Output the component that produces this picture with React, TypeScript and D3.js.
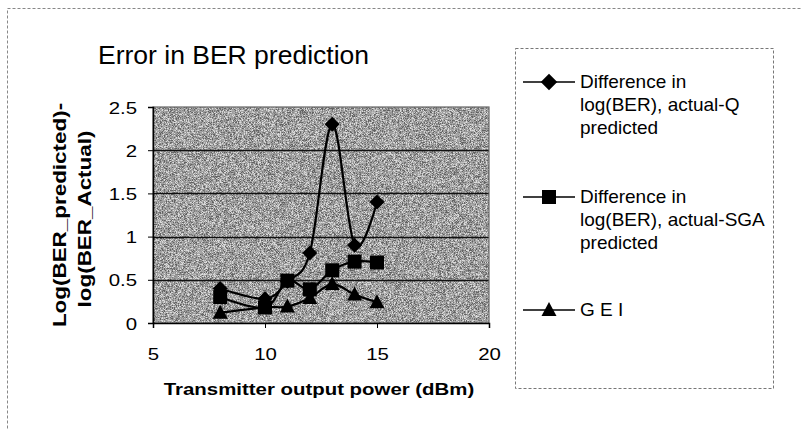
import * as d3 from 'd3'
import React, { useEffect, useRef } from 'react'

const xValues = [8, 10, 11, 12, 13, 14, 15]
const actualQ = [0.4, 0.28, 0.48, 0.81, 2.3, 0.9, 1.4]
const actualSGA = [0.3, 0.18, 0.49, 0.39, 0.61, 0.71, 0.7]
const gei = [0.12, 0.18, 0.19, 0.29, 0.45, 0.33, 0.24]

const xTicks = [5, 10, 15, 20]
const yTicks = [0, 0.5, 1, 1.5, 2, 2.5]

const seriesNames = [
  ['Difference in', 'log(BER), actual-Q', 'predicted'],
  ['Difference in', 'log(BER), actual-SGA', 'predicted'],
  ['G E I'],
]
const seriesShapes = ['diamond', 'square', 'triangle']

const plot = { left: 153, right: 489, top: 107, bottom: 323 }
const font = '"Liberation Sans", Arial, sans-serif'

// marker outline centred on 0,0
const marker = (shape: string, s = 1) => {
  if (shape === 'diamond') return `M0,${-7.5 * s}L${7.5 * s},0L0,${7.5 * s}L${-7.5 * s},0Z`
  if (shape === 'square') return `M${-7 * s},${-7 * s}h${14 * s}v${14 * s}h${-14 * s}Z`
  return `M0,${-8 * s}L${7.5 * s},${6 * s}L${-7.5 * s},${6 * s}Z`
}

// scanned text is a bit wider than the font itself
const stretch = (sel: d3.Selection<any, any, any, any>, k: number) => {
  sel.each(function () {
    const el = this as SVGTextContentElement
    const w = el.getComputedTextLength()
    el.setAttribute('textLength', String(w * k))
    el.setAttribute('lengthAdjust', 'spacingAndGlyphs')
  })
}

const App = () => {
  const ref = useRef<SVGSVGElement>(null)

  useEffect(() => {
    if (!ref.current) return
    const svg = d3.select(ref.current)
    svg.selectAll('*').remove()

    const x = d3.scaleLinear().domain([5, 20]).range([plot.left, plot.right])
    const y = d3.scaleLinear().domain([0, 2.5]).range([plot.bottom, plot.top])

    // outer chart frame (dashed, runs off the page on the right/bottom)
    svg
      .append('rect')
      .attr('x', 7.5)
      .attr('y', 8.5)
      .attr('width', 900)
      .attr('height', 600)
      .attr('fill', 'white')
      .attr('stroke', '#888')
      .attr('stroke-dasharray', '3,2')

    svg
      .append('text')
      .attr('x', 98)
      .attr('y', 64)
      .attr('font-family', font)
      .attr('font-size', 26.5)
      .text('Error in BER prediction')

    // plot background with speckle
    const defs = svg.append('defs')
    const filter = defs.append('filter').attr('id', 'noise').attr('x', 0).attr('y', 0).attr('width', '100%').attr('height', '100%')
    filter.append('feTurbulence').attr('type', 'fractalNoise').attr('baseFrequency', 1.5).attr('numOctaves', 1).attr('seed', 3)
    filter
      .append('feColorMatrix')
      .attr('type', 'matrix')
      .attr('values', '0 0 0 0 0  0 0 0 0 0  0 0 0 0 0  0 0 0 -3 2')
    filter.append('feComposite').attr('in2', 'SourceGraphic').attr('operator', 'in')

    const bg = () =>
      svg
        .append('rect')
        .attr('x', plot.left)
        .attr('y', plot.top)
        .attr('width', plot.right - plot.left)
        .attr('height', plot.bottom - plot.top)
    bg().attr('fill', '#dcdcdc')
    bg().attr('fill', '#000').attr('opacity', 0.55).attr('filter', 'url(#noise)')

    // gridlines
    svg
      .append('g')
      .selectAll('line')
      .data(yTicks.slice(1, -1))
      .join('line')
      .attr('x1', plot.left)
      .attr('x2', plot.right)
      .attr('y1', (d) => Math.round(y(d)) + 0.5)
      .attr('y2', (d) => Math.round(y(d)) + 0.5)
      .attr('stroke', '#111')
      .attr('stroke-width', 1.5)

    bg().attr('fill', 'none').attr('stroke', '#666').attr('stroke-width', 1.2)

    // axes
    const yAxis = svg
      .append('g')
      .attr('transform', `translate(${plot.left},0)`)
      .call(d3.axisLeft(y).tickValues(yTicks).tickSize(5).tickFormat(d3.format('~g')))
    const xAxis = svg
      .append('g')
      .attr('transform', `translate(0,${plot.bottom})`)
      .call(d3.axisBottom(x).tickValues(xTicks).tickSize(5).tickFormat(d3.format('d')))
    for (const g of [xAxis, yAxis]) {
      g.select('.domain').attr('stroke', '#000').attr('stroke-width', 1.5)
      g.selectAll('.tick line').attr('stroke', '#000')
      g.selectAll('.tick text').attr('font-family', font).attr('font-size', 17).attr('fill', '#000')
    }
    yAxis.selectAll('.tick text').attr('x', -16).attr('dy', '0.36em')
    xAxis.selectAll('.tick text').attr('y', 37).attr('dy', 0)
    stretch(yAxis.selectAll('.tick text'), 1.2)
    stretch(xAxis.selectAll('.tick text'), 1.2)

    // axis titles
    const yTitle1 = svg
      .append('text')
      .attr('transform', 'translate(66,215) rotate(-90)')
      .attr('text-anchor', 'middle')
      .attr('font-family', font)
      .attr('font-size', 19)
      .attr('font-weight', 'bold')
      .text('Log(BER_predicted)-')
    const yTitle2 = svg
      .append('text')
      .attr('transform', 'translate(91,219) rotate(-90)')
      .attr('text-anchor', 'middle')
      .attr('font-family', font)
      .attr('font-size', 19)
      .attr('font-weight', 'bold')
      .text('log(BER_Actual)')
    stretch(yTitle1, 1.18)
    stretch(yTitle2, 1.18)

    const xTitle = svg
      .append('text')
      .attr('x', 319)
      .attr('y', 395)
      .attr('text-anchor', 'middle')
      .attr('font-family', font)
      .attr('font-size', 17)
      .attr('font-weight', 'bold')
      .text('Transmitter output power (dBm)')
    stretch(xTitle, 1.2)

    // series
    const allSeries = [actualQ, actualSGA, gei]
    const line = d3
      .line<number>()
      .x((_, i) => x(xValues[i]))
      .y((d) => y(d))
      .curve(d3.curveCardinal)

    allSeries.forEach((values) => {
      svg.append('path').attr('d', line(values)).attr('fill', 'none').attr('stroke', '#000').attr('stroke-width', 2.2)
    })
    allSeries.forEach((values, si) => {
      svg
        .append('g')
        .selectAll('path')
        .data(values)
        .join('path')
        .attr('transform', (d, i) => `translate(${x(xValues[i])},${y(d)})`)
        .attr('d', marker(seriesShapes[si]))
        .attr('fill', '#000')
    })

    // legend
    svg
      .append('rect')
      .attr('x', 515.5)
      .attr('y', 48.5)
      .attr('width', 258)
      .attr('height', 340)
      .attr('fill', 'white')
      .attr('stroke', '#777')
      .attr('stroke-dasharray', '3,2')

    const legendY = [82, 197, 310]
    seriesNames.forEach((lines, si) => {
      const g = svg.append('g').attr('transform', `translate(0,${legendY[si]})`)
      g.append('line').attr('x1', 523).attr('x2', 575).attr('stroke', '#000').attr('stroke-width', 1.5)
      g.append('path')
        .attr('transform', 'translate(549,0)')
        .attr('d', marker(seriesShapes[si], si === 0 ? 1.1 : 1))
        .attr('fill', '#000')
      const t = g.append('text').attr('font-family', font).attr('font-size', 19).attr('fill', '#000')
      lines.forEach((part, li) => {
        t.append('tspan').attr('x', 580).attr('y', 6 + li * 23).text(part)
      })
    })
  }, [])

  return <svg ref={ref} width={801} height={430} style={{ position: 'absolute', left: 0, top: 0 }} />
}

export default App
